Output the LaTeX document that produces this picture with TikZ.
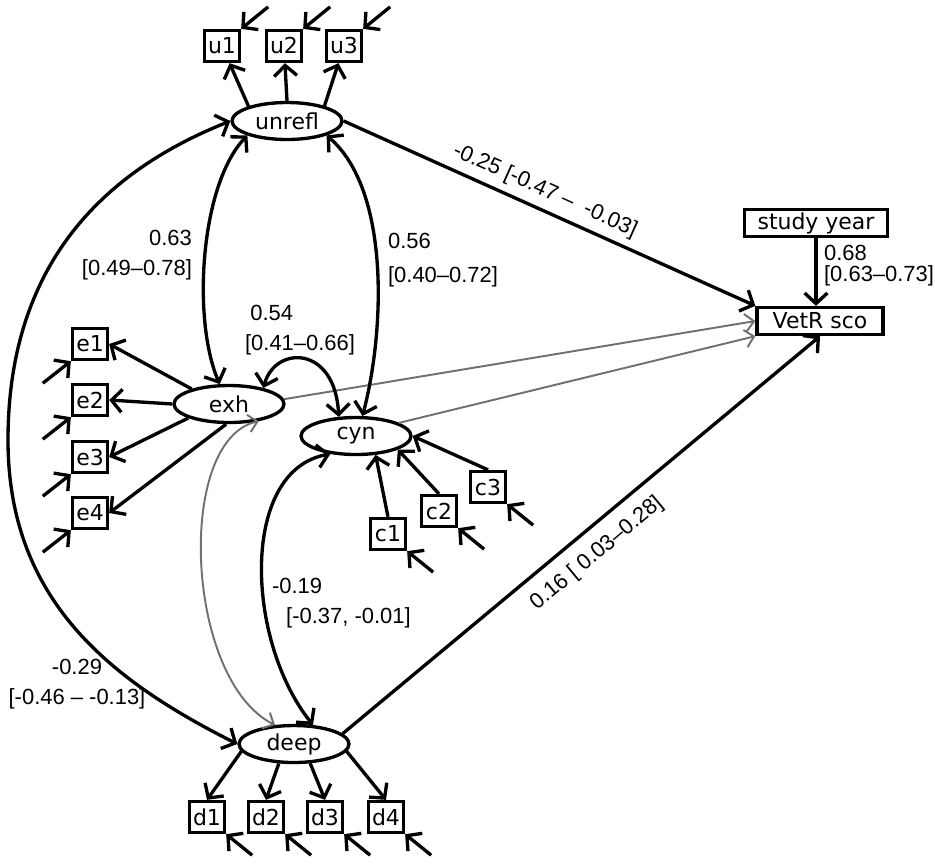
\documentclass[tikz,border=0pt]{standalone}
\usepackage{fontspec}
\setmainfont{DejaVu Sans}
\newfontfamily\lblfont{Liberation Sans}
\usetikzlibrary{arrows.meta,shapes.geometric}
\definecolor{weakgray}{RGB}{112,112,112}

\begin{document}
\begin{tikzpicture}[x=0.02cm, y=-0.02cm,
        >={Straight Barb[length=6pt,width=13pt]},
        lat/.style={draw, ellipse, line width=1.9pt, inner sep=0pt,
            minimum width=2.2cm, minimum height=0.74cm, font=\fontsize{12.5}{14}\selectfont},
        man/.style={draw, line width=1.9pt, inner sep=0pt,
            minimum width=0.7cm, minimum height=0.62cm, font=\fontsize{12.5}{14}\selectfont},
        obs/.style={draw, line width=1.9pt, inner sep=0pt,
            minimum height=0.54cm, font=\fontsize{12.5}{14}\selectfont},
        load/.style={->, line width=1.9pt},
        res/.style={<-, line width=1.9pt},
        cov/.style={<->, line width=1.9pt},
        weak/.style={->, line width=1.1pt, draw=weakgray,
            >={Straight Barb[length=5pt,width=10pt]}},
        lbl/.style={font=\lblfont\fontsize{12.5}{17}\selectfont, inner sep=1pt}]
        \useasboundingbox (0,0) rectangle (935,863);

        % latent variables
        \node[lat] (unrefl) at (287,121) {unrefl};
        \node[lat] (exh) at (229,404) {exh};
        \node[lat] (cyn) at (356,436) {cyn};
        \node[lat] (deep) at (294,744) {deep};

        % indicators
        \node[man] (u1) at (222,46) {u1};
        \node[man] (u2) at (284,46) {u2};
        \node[man] (u3) at (344,46) {u3};
        \node[man] (e1) at (90,344) {e1};
        \node[man] (e2) at (90,400) {e2};
        \node[man] (e3) at (90,457) {e3};
        \node[man] (e4) at (90,513) {e4};
        \node[man] (c1) at (388,534) {c1};
        \node[man] (c2) at (439,511) {c2};
        \node[man] (c3) at (488,487) {c3};
        \node[man] (d1) at (207,817) {d1};
        \node[man] (d2) at (266,817) {d2};
        \node[man] (d3) at (325,817) {d3};
        \node[man] (d4) at (386,817) {d4};

        \node[obs, minimum width=2.86cm] (sy) at (816,223) {study year};
        \node[obs, minimum width=2.52cm] (vetr) at (820,321) {VetR sco};

        % loadings
        \draw[load] (unrefl.159) -- (u1);
        \draw[load] (unrefl.north) -- (u2);
        \draw[load] (unrefl.22) -- (u3);
        \draw[load] (exh.158) -- (e1.east);
        \draw[load] (exh.west) -- (e2.east);
        \draw[load] (exh.199) -- (e3.east);
        \draw[load] (exh.262) -- (e4.east);
        \draw[load] (c1.north) -- (cyn.316);
        \draw[load] (c2.north) -- (cyn.342);
        \draw[load] (c3.north) -- (cyn.east);
        \draw[load] (deep.188) -- (d1.north);
        \draw[load] (deep.232) -- (d2.north);
        \draw[load] (deep.310) -- (d3.north);
        \draw[load] (deep.352) -- (d4.north);

        % residuals
        \foreach \b in {u1,u2,u3}
            \draw[res] (\b.north east) -- +(27,-22);
        \foreach \b in {e1,e2,e3,e4}
            \draw[res] (\b.south west) -- +(-28,22);
        \foreach \b in {c1,c2,c3,d1,d2,d3,d4}
            \draw[res] (\b.south east) -- +(26,21);

        % regressions
        \draw[load] (unrefl.east) -- node[lbl, sloped, above=3pt, pos=0.47] (bunrefl) {-0.25 [-0.47 –\ \ -0.03]} (vetr.north west);
        \draw[load] (deep.12) -- node[lbl, sloped, below=6pt] (bdeep) {0.16 [ 0.03–0.28]} (vetr.south);
        \draw[load] (sy.south) -- (sy.south |- vetr.north);
        \node[lbl, align=left, anchor=west] (bsy) at (822,266) {0.68\\[-5pt]{[0.63–0.73]}};
        \draw[weak] (exh.5) -- (vetr.west);
        \draw[weak] (cyn.17) -- (vetr.south west);

        % covariances
        \coordinate (far) at (8,440);
        \draw[cov] (unrefl.200) .. controls (200,185) and (192,320) .. (exh.115);
        \draw[cov] (unrefl.340) .. controls (390,190) and (385,330) .. (cyn.72);
        \draw[cov] (exh.25) .. controls (275,345) and (335,345) .. (cyn.132);
        \draw[cov] (cyn.215) .. controls (240,470) and (245,640) .. (deep.45);
        \draw[weak, <->] (exh.330) .. controls (175,440) and (185,680) .. (deep.135);
        \draw[cov] (unrefl.west) .. controls (120,165) and (8,250) .. (far)
            .. controls (8,600) and (110,680) .. (deep.west);

        \node[lbl, align=right, anchor=east] (cue) at (194,255) {0.63\\{[0.49–0.78]}};
        \node[lbl, align=left, anchor=west] (cuc) at (386,260) {0.56\\[2pt]{[0.40–0.72]}};
        \node[lbl, align=left, anchor=west] (cec) at (243,330) {\hspace*{3pt}0.54\\{[0.41–0.66]}};
        \node[lbl, align=left, anchor=west] (ccd) at (270,603) {-0.19\\\hspace*{8pt}[-0.37, -0.01]};
        \node[lbl, align=center] (cud) at (77,684) {-0.29\\{[-0.46 – -0.13]}};
\end{tikzpicture}
\end{document}
